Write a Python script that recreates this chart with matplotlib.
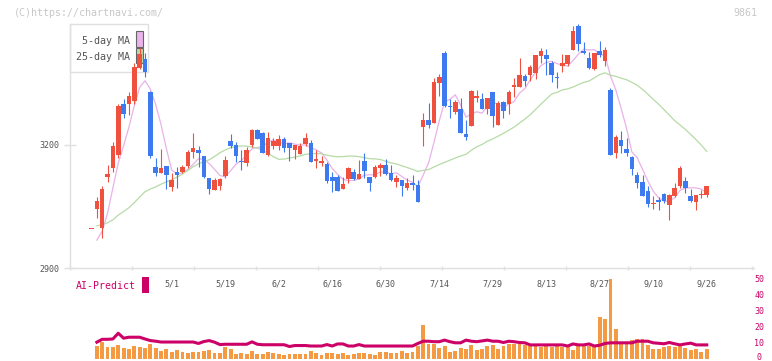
import numpy as np
import pandas as pd
import matplotlib
matplotlib.use('Agg')
import matplotlib.pyplot as plt
import matplotlib.transforms as mtransforms
from matplotlib.patches import Rectangle

# daily candles, oldest first, last one is 9/26
opens = [2994, 3043, 2998, 3122, 3145, 3176, 3299, 3299, 3307, 3389,
         3410, 3330, 3146, 3132, 3149, 3098, 3134, 3135, 3150, 3184,
         3189, 3173, 3119, 3090, 3101, 3124, 3210, 3200, 3162, 3157,
         3200, 3237, 3230, 3176, 3198, 3198, 3215, 3205, 3188, 3178,
         3202, 3206, 3162, 3156, 3154, 3123, 3123, 3093, 3116, 3135,
         3117, 3162, 3122, 3123, 3145, 3151, 3132, 3110, 3115, 3094,
         3107, 3102, 3245, 3261, 3254, 3352, 3425, 3296, 3281, 3289,
         3227, 3247, 3315, 3312, 3287, 3329, 3250, 3304, 3299, 3342,
         3342, 3368, 3371, 3375, 3418, 3420, 3401, 3367, 3393, 3398,
         3432, 3490, 3429, 3413, 3385, 3430, 3405, 3334, 3180, 3212,
         3190, 3170, 3127, 3109, 3088, 3055, 3066, 3080, 3054, 3076,
         3099, 3111, 3076, 3062, 3079, 3078]
highs = [2994, 3074, 3100, 3151, 3208, 3299, 3312, 3329, 3400, 3436,
         3424, 3332, 3169, 3190, 3149, 3132, 3147, 3151, 3189, 3229,
         3198, 3173, 3119, 3119, 3120, 3174, 3228, 3207, 3188, 3196,
         3239, 3239, 3232, 3232, 3218, 3224, 3220, 3205, 3200, 3204,
         3230, 3212, 3188, 3174, 3159, 3135, 3127, 3121, 3147, 3141,
         3163, 3181, 3122, 3151, 3155, 3166, 3151, 3128, 3115, 3119,
         3127, 3115, 3279, 3303, 3364, 3372, 3429, 3312, 3310, 3314,
         3261, 3334, 3334, 3326, 3314, 3329, 3307, 3307, 3334, 3364,
         3413, 3373, 3394, 3420, 3437, 3433, 3405, 3377, 3421, 3420,
         3490, 3495, 3452, 3428, 3425, 3454, 3438, 3340, 3224, 3234,
         3216, 3174, 3135, 3127, 3100, 3076, 3072, 3082, 3080, 3107,
         3150, 3123, 3093, 3078, 3090, 3100]
lows = [2994, 3021, 2974, 3110, 3135, 3169, 3265, 3273, 3299, 3385,
        3367, 3168, 3125, 3131, 3093, 3089, 3096, 3131, 3143, 3168,
        3147, 3119, 3080, 3090, 3090, 3119, 3192, 3158, 3140, 3150,
        3196, 3214, 3181, 3173, 3190, 3188, 3184, 3162, 3165, 3178,
        3198, 3159, 3145, 3150, 3108, 3086, 3089, 3093, 3107, 3115,
        3117, 3119, 3089, 3120, 3125, 3127, 3112, 3098, 3076, 3090,
        3090, 3062, 3198, 3242, 3254, 3320, 3293, 3267, 3275, 3229,
        3212, 3247, 3306, 3287, 3275, 3245, 3250, 3265, 3276, 3316,
        3342, 3344, 3357, 3362, 3399, 3371, 3354, 3340, 3377, 3393,
        3432, 3430, 3421, 3385, 3383, 3414, 3393, 3176, 3169, 3181,
        3174, 3128, 3096, 3076, 3050, 3044, 3041, 3059, 3017, 3073,
        3096, 3084, 3062, 3041, 3071, 3074]
closes = [2994, 3063, 3093, 3129, 3198, 3296, 3276, 3320, 3390, 3421,
          3377, 3174, 3132, 3144, 3127, 3115, 3128, 3146, 3184, 3193,
          3181, 3123, 3093, 3114, 3117, 3164, 3198, 3172, 3158, 3188,
          3237, 3215, 3181, 3216, 3210, 3215, 3193, 3192, 3200, 3198,
          3218, 3159, 3166, 3162, 3113, 3113, 3089, 3105, 3145, 3117,
          3129, 3137, 3108, 3146, 3151, 3129, 3115, 3120, 3101, 3107,
          3102, 3062, 3261, 3249, 3354, 3367, 3295, 3292, 3304, 3229,
          3220, 3332, 3320, 3287, 3314, 3270, 3303, 3284, 3329, 3346,
          3371, 3357, 3391, 3420, 3429, 3410, 3371, 3363, 3399, 3420,
          3478, 3446, 3425, 3389, 3425, 3420, 3432, 3176, 3219, 3198,
          3181, 3141, 3107, 3076, 3055, 3057, 3062, 3064, 3078, 3096,
          3145, 3094, 3064, 3078, 3081, 3100]
# closes before the first candle (not drawn), only to warm up the averages
prior_closes = [3020, 3030, 3010, 3020, 3006, 3060, 3080, 3090, 3070, 3059,
                3010, 2995, 2985, 2987, 2975, 2970, 2965, 2966, 2965, 3000,
                2992, 2983, 2910, 2890]

# lower panel, from the 2nd candle on
volume = [7.8, 10.5, 7.2, 7.2, 8.5, 6.6, 6.0, 7.8, 7.2, 6.6,
          9.1, 6.6, 4.7, 6.0, 4.1, 5.3, 4.1, 3.4, 4.1, 4.1,
          4.7, 5.3, 3.4, 3.4, 7.2, 6.0, 2.8, 3.4, 2.8, 4.7,
          2.8, 2.8, 4.1, 3.4, 2.8, 2.2, 2.8, 2.8, 2.8, 2.8,
          4.7, 3.4, 2.2, 3.4, 3.4, 2.8, 3.4, 2.2, 2.8, 3.4,
          3.4, 2.8, 2.2, 4.1, 4.1, 3.4, 3.4, 4.7, 3.4, 4.1,
          7.8, 21.0, 9.1, 9.1, 6.6, 7.8, 4.1, 4.7, 6.6, 6.0,
          8.5, 5.3, 6.0, 7.8, 8.5, 6.0, 7.8, 9.1, 9.1, 9.1,
          8.5, 7.8, 7.8, 7.2, 7.8, 7.2, 7.8, 7.2, 7.2, 5.3,
          9.1, 7.8, 7.8, 7.2, 26.0, 24.5, 50.0, 18.5, 9.1, 9.1,
          11.6, 12.2, 12.2, 8.5, 6.0, 6.0, 7.2, 7.8, 7.2, 7.8,
          6.6, 5.3, 6.0, 4.1, 6.0]
ai_predict = [10.2, 12.0, 12.0, 12.2, 15.8, 12.7, 13.3, 13.3, 13.3, 12.2,
              11.2, 10.8, 10.3, 10.3, 10.3, 10.3, 10.3, 10.3, 10.3, 9.4,
              10.6, 11.2, 10.2, 8.7, 8.9, 8.9, 8.9, 8.9, 8.9, 10.4,
              8.9, 8.6, 8.6, 8.6, 8.6, 8.6, 7.5, 8.1, 8.1, 8.1,
              7.8, 7.8, 7.8, 8.7, 7.8, 9.1, 9.1, 7.8, 7.8, 8.7,
              7.8, 7.8, 7.8, 7.8, 7.8, 7.8, 7.8, 7.8, 7.8, 7.8,
              9.4, 10.8, 10.8, 10.5, 10.5, 11.5, 10.5, 9.8, 9.8, 11.5,
              10.8, 10.5, 11.0, 11.5, 10.8, 10.8, 10.0, 10.8, 10.5, 10.0,
              9.8, 8.5, 8.5, 8.5, 8.5, 8.5, 8.5, 8.5, 7.8, 9.1,
              8.5, 8.5, 9.1, 7.8, 8.3, 9.4, 9.8, 9.8, 9.8, 9.8,
              9.8, 10.8, 10.8, 10.8, 9.8, 9.5, 9.2, 10.0, 9.2, 8.5,
              9.1, 9.6, 8.5, 8.5, 8.5]

date_labels = ['5/1', '5/19', '6/2', '6/16', '6/30', '7/14', '7/29', '8/13', '8/27', '9/10', '9/26']
date_pos = [15, 25, 35, 45, 55, 65, 75, 85, 95, 105, 115]

UP = '#f0503e'
DOWN = '#3d7af0'
MAGENTA = '#cc0066'
MONO = 'DejaVu Sans Mono'

W, H = 772, 361
fig = plt.figure(figsize=(W / 100, H / 100), dpi=100)

def fx(px):
    return px / W

def fy(py):
    return 1 - py / H

# pixel layout of the original: first candle at x=91.5, 5.35 px apart
x0, step = 91.5, 5.35
left, right = 70, 753.5
xlim = ((left - x0) / step, (right - x0) / step)

ax = fig.add_axes([fx(left), fy(268), fx(right) - fx(left), fy(24) - fy(268)])
ax2 = fig.add_axes([fx(left), fy(358.5), fx(right) - fx(left), fy(278.5) - fy(358.5)])
ax2.set_zorder(-1)

idx = np.arange(len(closes))
o = np.array(opens); c = np.array(closes)
hi = np.array(highs); lo = np.array(lows)
cols = [UP if cc >= oo else DOWN for oo, cc in zip(o, c)]

ax.vlines(idx, lo, hi, colors=cols, lw=0.8, zorder=3, clip_on=False)
body = np.maximum(np.abs(c - o), 2.5)
ax.bar(idx, body, bottom=np.minimum(o, c), width=0.85, color=cols, zorder=3, clip_on=False)

s = pd.Series(prior_closes + closes, dtype=float)
ma5 = s.rolling(5).mean().values[len(prior_closes):]
ma25 = s.rolling(25).mean().values[len(prior_closes):]
ax.plot(idx[1:], ma5[1:], color='#e9b2e9', lw=0.9, zorder=2)
ax.plot(idx[1:], ma25[1:], color='#b6dba6', lw=0.9, zorder=2)

ax.set_xlim(*xlim)
ax.set_ylim(2900, 3200 + 121 / 0.41)
for sp in ['top', 'right']:
    ax.spines[sp].set_visible(False)
for sp in ['left', 'bottom']:
    ax.spines[sp].set_color('#e0e0e0')
    ax.spines[sp].set_linewidth(1.0)

ax.set_yticks([2900, 3200])
ax.tick_params(axis='y', direction='inout', length=8.6, width=1.0, color='#e0e0e0',
               pad=3.4, labelsize=6, labelcolor='#555555')
for t in ax.get_yticklabels():
    t.set_family(MONO)

ax.set_xticks(date_pos)
ax.set_xticklabels(date_labels, family=MONO)
ax.tick_params(axis='x', which='major', length=0, pad=8, labelsize=6, labelcolor='#555555')
ax.set_xticks(np.arange(12) * 62 / step + (70.3 - x0) / step, minor=True)
ax.tick_params(axis='x', which='minor', direction='inout', length=3, width=1.0, color='#e0e0e0')

# legend box
tr = fig.transFigure
ax.add_patch(Rectangle((fx(70), fy(71.7)), fx(148.3) - fx(70), fy(24.3) - fy(71.7), transform=tr,
                       facecolor='white', edgecolor='#e0e0e0', lw=1.0, zorder=1, clip_on=False))
ax.add_patch(Rectangle((fx(136), fy(46.7)), fx(142.7) - fx(136), fy(31) - fy(46.7), transform=tr,
                       facecolor='#eab4ea', edgecolor='#666666', lw=0.8, zorder=1.5, clip_on=False))
ax.add_patch(Rectangle((fx(136), fy(63.3)), fx(142.7) - fx(136), fy(48.3) - fy(63.3), transform=tr,
                       facecolor='#b6dba6', edgecolor='#666666', lw=0.8, zorder=1.5, clip_on=False))
fig.text(fx(129.5), fy(40.7), '5-day MA', ha='right', va='center', fontsize=7.2,
         color='#555555', family=MONO)
fig.text(fx(129.5), fy(57.3), '25-day MA', ha='right', va='center', fontsize=7.2,
         color='#555555', family=MONO)

fig.text(fx(14), fy(12.5), '(C)https://chartnavi.com/', ha='left', va='center', fontsize=7.2,
         color='#c8c8c8', family=MONO)
fig.text(fx(757), fy(12.5), '9861', ha='right', va='center', fontsize=7.2,
         color='#c8c8c8', family=MONO)

# lower panel
ax2.set_facecolor('none')
ax2.bar(idx[1:], volume, width=0.72, color='#f49a42', zorder=1)
ax2.plot(idx[1:], ai_predict, color=MAGENTA, lw=2.2, zorder=2)
ax2.set_xlim(*xlim)
ax2.set_ylim(0, 50)
for sp in ax2.spines.values():
    sp.set_visible(False)
ax2.set_xticks([])
ax2.yaxis.tick_right()
ax2.set_yticks([0, 10, 20, 30, 40, 50])
ax2.tick_params(axis='y', length=0, pad=4.3, labelsize=6, labelcolor=MAGENTA)
for t in ax2.get_yticklabels():
    t.set_family(MONO)
    t.set_horizontalalignment('center')
# the "0" sits on the bottom edge; nudge it up so it is not cut off
lab0 = ax2.get_yticklabels()[0]
lab0.set_transform(lab0.get_transform() + mtransforms.ScaledTranslation(0, 2.5 / 100, fig.dpi_scale_trans))

fig.text(fx(75.7), fy(286), 'AI-Predict', ha='left', va='center', fontsize=7.1,
         color=MAGENTA, family=MONO)
fig.patches.append(Rectangle((fx(142.3), fy(293)), fx(149) - fx(142.3), fy(276.7) - fy(293),
                             transform=tr, facecolor=MAGENTA, edgecolor='none', figure=fig))

fig.savefig('out.png', dpi=100)
